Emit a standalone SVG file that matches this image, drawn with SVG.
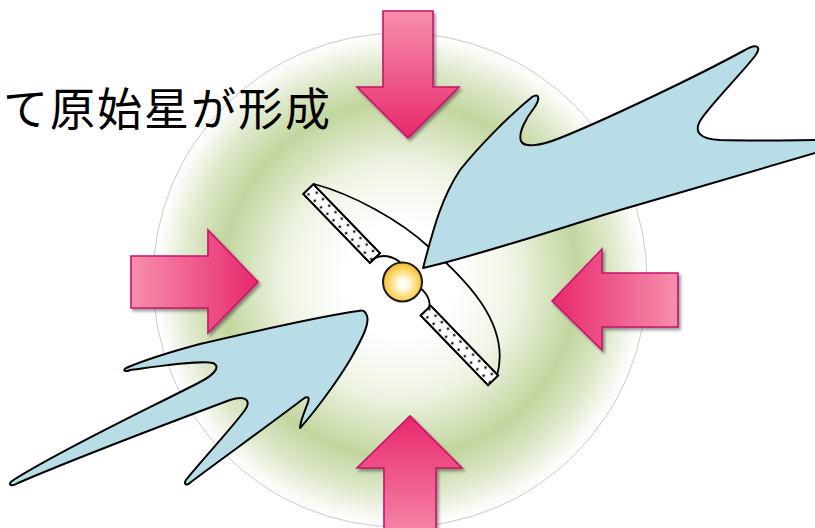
<svg xmlns="http://www.w3.org/2000/svg" width="815" height="528" viewBox="0 0 815 528">
  <style>
    .push { stroke: #c8146a; stroke-width: 1.6; stroke-linejoin: miter; filter: url(#shade); }
    .jet { fill: #b8dde7; stroke: #000; stroke-width: 2; stroke-linejoin: round; }
    .edge { fill: none; stroke: #000; stroke-width: 1.8; stroke-linecap: round; }
    .bar { fill: #fff; stroke: #000; stroke-width: 1.8; }
    .caption { font-family: "Noto Sans CJK JP", "Noto Sans", sans-serif; font-size: 45px; fill: #000; letter-spacing: 2px; }
  </style>
  <defs>
    <radialGradient id="glow" cx="400" cy="280" r="247" gradientUnits="userSpaceOnUse">
      <stop offset="0" stop-color="#ffffff"/>
      <stop offset="0.22" stop-color="#ffffff"/>
      <stop offset="0.47" stop-color="#eef4e4"/>
      <stop offset="0.72" stop-color="#c2d69e"/>
      <stop offset="0.86" stop-color="#dde8ca"/>
      <stop offset="0.97" stop-color="#f9fbf5"/>
      <stop offset="1" stop-color="#ffffff"/>
    </radialGradient>
    <linearGradient id="pinkDown" x1="0" y1="0" x2="0" y2="1">
      <stop offset="0" stop-color="#f68fac"/>
      <stop offset="1" stop-color="#e8286d"/>
    </linearGradient>
    <linearGradient id="pinkUp" x1="0" y1="1" x2="0" y2="0">
      <stop offset="0" stop-color="#f68fac"/>
      <stop offset="1" stop-color="#e8286d"/>
    </linearGradient>
    <linearGradient id="pinkRight" x1="0" y1="0" x2="1" y2="0">
      <stop offset="0" stop-color="#f68fac"/>
      <stop offset="1" stop-color="#e8286d"/>
    </linearGradient>
    <linearGradient id="pinkLeft" x1="1" y1="0" x2="0" y2="0">
      <stop offset="0" stop-color="#f68fac"/>
      <stop offset="1" stop-color="#e8286d"/>
    </linearGradient>
    <radialGradient id="starFill" cx="0.52" cy="0.55" r="0.6">
      <stop offset="0" stop-color="#ffffff"/>
      <stop offset="0.2" stop-color="#fffbe8"/>
      <stop offset="0.6" stop-color="#fbd86c"/>
      <stop offset="1" stop-color="#f0ae1e"/>
    </radialGradient>
    <pattern id="dots" patternUnits="userSpaceOnUse" x="0" y="-7" width="9" height="14">
      <circle cx="2.5" cy="3.5" r="1.2" fill="#000"/>
      <circle cx="7" cy="10.5" r="1.2" fill="#000"/>
    </pattern>
    <filter id="shade" x="-20%" y="-20%" width="150%" height="150%">
      <feDropShadow dx="2" dy="2.5" stdDeviation="1.8" flood-color="#000" flood-opacity="0.4"/>
    </filter>
  </defs>

  <!-- collapsing cloud core -->
  <g id="cloud">
    <circle cx="400" cy="280" r="247" fill="url(#glow)" stroke="#bdbdbd" stroke-width="0.8"/>
  </g>

  <!-- caption, clipped at the left edge -->
  <g id="caption">
    <text class="caption" x="3" y="126">て原始星が形成</text>
  </g>

  <!-- inward pressure arrows -->
  <g id="arrow-top">
    <path class="push" fill="url(#pinkDown)" d="M383,11 H433 V87 H459 L408,138 L357,87 H383 Z"/>
  </g>
  <g id="arrow-left">
    <path class="push" fill="url(#pinkRight)" d="M131,256 H208 V230 L258,282 L208,333 V308 H131 Z"/>
  </g>
  <g id="arrow-right">
    <path class="push" fill="url(#pinkLeft)" d="M678,273 H602 V249 L552,301 L602,350 V327 H678 Z"/>
  </g>
  <g id="arrow-bottom">
    <path class="push" fill="url(#pinkUp)" d="M384,545 V468 H357 L410,416 L462,468 H436 V545 Z"/>
  </g>

  <!-- accretion disk -->
  <g id="disk">
    <path class="edge" d="M314,184 C352,194 400,220 430,248 C462,277 512,322 497,376"/>
    <g transform="translate(400,284) rotate(46)">
      <rect class="bar" x="-132" y="-7" width="96" height="14"/>
      <rect x="-132" y="-7" width="96" height="14" fill="url(#dots)"/>
      <rect x="-132" y="-7" width="96" height="14" fill="none" stroke="#000" stroke-width="1.8"/>
      <rect class="bar" x="37" y="-7" width="97" height="14"/>
      <rect x="37" y="-7" width="97" height="14" fill="url(#dots)"/>
      <rect x="37" y="-7" width="97" height="14" fill="none" stroke="#000" stroke-width="1.8"/>
    </g>
    <path class="edge" d="M373,259 C381,254 393,255 402,264"/>
    <path class="edge" d="M419,287 C427,293 431,301 429,308"/>
  </g>

  <!-- protostar -->
  <g id="protostar">
    <circle cx="402.5" cy="282" r="19.5" fill="url(#starFill)" stroke="#1a1a1a" stroke-width="2"/>
  </g>

  <!-- bipolar outflows -->
  <g id="outflow-ne">
    <path class="jet" d="M423,268
      C432,235 440,200 460,170
      C480,145 510,115 532,97
      C540,92 540,100 534,108
      C526,118 518,133 521,141
      C524,148 540,146 560,138
      C600,122 690,80 745,50
      C755,44 763,45 755,56
      C740,75 715,100 702,118
      C692,132 700,139 720,140
      C760,141 800,140 825,140
      L825,150
      C780,163 690,190 620,210
      C560,228 480,255 423,268 Z"/>
  </g>
  <g id="outflow-sw">
    <path class="jet" d="M358,311
      C330,315 260,330 200,344
      C170,352 140,362 126,368
      C122,371 126,372 130,370
      C160,366 200,360 213,363
      C222,367 212,376 200,382
      C160,403 60,450 12,481
      C7,485 12,487 18,483
      C60,465 150,430 230,400
      C245,395 252,400 245,410
      C232,428 200,462 186,480
      C183,485 187,486 191,482
      C220,460 265,428 303,399
      C309,395 310,398 307,405
      C304,413 300,422 300,428
      C312,415 335,385 350,360
      C360,342 370,325 367,316
      C365,310 362,310 358,311 Z"/>
  </g>
</svg>
